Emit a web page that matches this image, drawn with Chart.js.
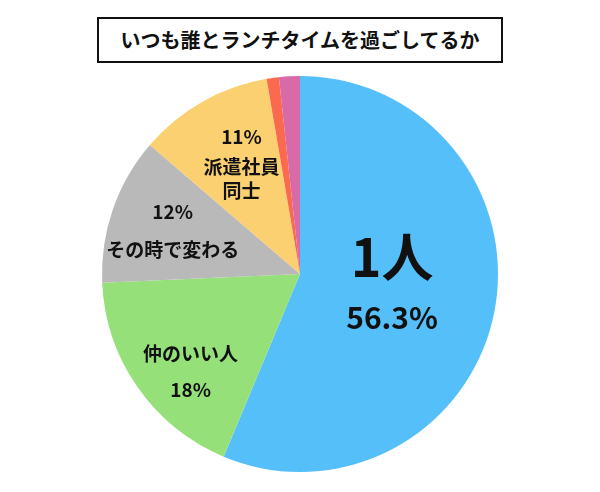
<!DOCTYPE html>
<html><head><meta charset="utf-8">
<script src="https://cdn.jsdelivr.net/npm/chart.js"></script>
<style>
body{margin:0;background:#fff;width:600px;height:492px;position:relative;font-family:"Noto Sans CJK JP",sans-serif}
#t{position:absolute;left:97px;top:17px;width:402px;height:42px;border:2px solid #111;text-align:center;line-height:42px;font-size:20px;font-weight:bold;color:#111}
#w{position:absolute;left:0;top:66px;width:600px;height:412px}
</style></head><body>
<div id="t">いつも誰とランチタイムを過ごしてるか</div>
<div id="w"><canvas id="c"></canvas></div>
<script>
const categories=["1人","仲のいい人","その時で変わる","派遣社員同士","その他1","その他2"];
const values=[56.3,18,12,11,1,1.7];
const pctLabels=["56.3%","18%","12%","11%","",""];
const colors=["#55bffa","#96e07a","#b9b9b9","#fbd071","#fb6a4f","#d96aa8"];
const labelPlugin={id:"lbl",afterDatasetsDraw(ch){
 const ctx=ch.ctx;const arcs=ch.getDatasetMeta(0).data;
 ctx.save();ctx.fillStyle="#111";ctx.textAlign="center";ctx.textBaseline="middle";
 const f="bold 19px 'Noto Sans CJK JP'";
 const specs=[
  {r:0.5,dx:-5,dy:-8,lines:[[categories[0],"bold 52px 'Noto Sans CJK JP'",-28],[pctLabels[0],"bold 30px 'Noto Sans CJK JP'",32]]},
  {r:0.6,dx:-12,dy:28,lines:[[categories[1],f,-16],[pctLabels[1],f,20]]},
  {r:0.6,dx:-15,dy:-3,lines:[[pctLabels[2],f,-20],[categories[2],f,18]]},
  {r:0.62,dx:2,dy:2,lines:[[pctLabels[3],f,-32],["派遣社員",f,-2],["同士",f,22]]}
 ];
 specs.forEach((s,i)=>{const a=arcs[i];const m=(a.startAngle+a.endAngle)/2;
  const x=a.x+Math.cos(m)*a.outerRadius*s.r+s.dx, y=a.y+Math.sin(m)*a.outerRadius*s.r+s.dy;
  s.lines.forEach(l=>{ctx.font=l[1];ctx.fillText(l[0],x,y+l[2]);});});
 ctx.restore();}};
new Chart(document.getElementById("c"),{type:"pie",
 data:{labels:categories,datasets:[{data:values,backgroundColor:colors,borderWidth:0}]},
 options:{responsive:true,maintainAspectRatio:false,animation:false,
  layout:{padding:{top:10,bottom:6}},
  plugins:{legend:{display:false},tooltip:{enabled:false}}},
 plugins:[labelPlugin]});
</script></body></html>
